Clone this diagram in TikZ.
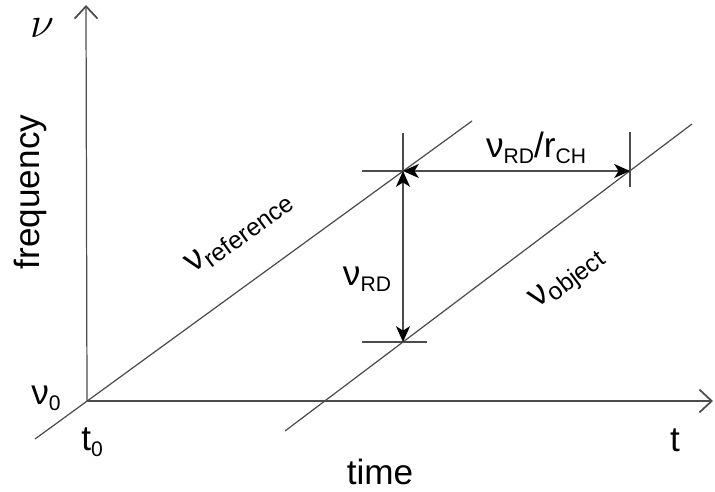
\documentclass[tikz,border=0pt]{standalone}
\usepackage{fontspec}
\setmainfont{Liberation Sans}
\usetikzlibrary{arrows.meta}
\newcommand{\lowidx}[2][12]{\raisebox{-3.4pt}{\fontsize{#1}{#1}\selectfont #2}}

\begin{document}
\begin{tikzpicture}[x=0.02cm,y=-0.02cm,
  line/.style={draw=black!70,line width=0.7pt},
  axis/.style={line,-{Straight Barb[length=7pt,width=13pt,line width=1pt]}},
  span/.style={line,{Stealth[length=9pt,width=8pt,inset=2.5pt,black]}-{Stealth[length=9pt,width=8pt,inset=2.5pt,black]}},
  lbl/.style={font=\fontsize{20}{24}\selectfont,inner sep=0pt}]

\useasboundingbox (0,0) rectangle (715,492);

\coordinate (o) at (87,401);
\coordinate (ytop) at (86,5);
\coordinate (xend) at (713,401);

\coordinate (r1) at (35,439);
\coordinate (r2) at (472,121);
\coordinate (b1) at (285,431);
\coordinate (b2) at (692,124);

\coordinate (p) at (403,171);
\coordinate (q) at (403,342);
\coordinate (s) at (630,171);

\coordinate (ptop) at (403,133);
\coordinate (pleft) at (362,171);
\coordinate (qleft) at (362,342);
\coordinate (qright) at (427,342);
\coordinate (stop) at (630,132);
\coordinate (sbot) at (630,187);

\draw[axis] (o) -- (ytop);
\draw[axis] (o) -- (xend);
\draw[line] (r1) -- (r2);
\draw[line] (b1) -- (b2);

\draw[line] (ptop) -- (p) (pleft) -- (p);
\draw[line] (qleft) -- (qright);
\draw[line] (stop) -- (sbot);
\draw[span] (p) -- (q);
\draw[span] (p) -- (s);

\node[lbl,font=\fontsize{27}{30}\selectfont] (nu) at (42,28) {$\nu$};
\node[lbl] (nu0) at (46,398) {ν\lowidx{0}};
\node[lbl,rotate=90] (freq) at (30,192) {frequency};
\node[lbl] (t0) at (92,442) {t\lowidx{0}};
\node[lbl] (time) at (380,472) {time};
\node[lbl] (tlab) at (675,440) {t};

\node[lbl] (nurd) at (367,279) {ν\lowidx{RD}};
\node[lbl] (nuratio) at (536,148) {ν\lowidx{RD}/r\lowidx{CH}};
\node[lbl,rotate=36] (nuref) at (239,233) {ν\lowidx[14]{reference}};
\node[lbl,rotate=37] (nuobj) at (568,280) {ν\lowidx[14]{object}};

\end{tikzpicture}
\end{document}
